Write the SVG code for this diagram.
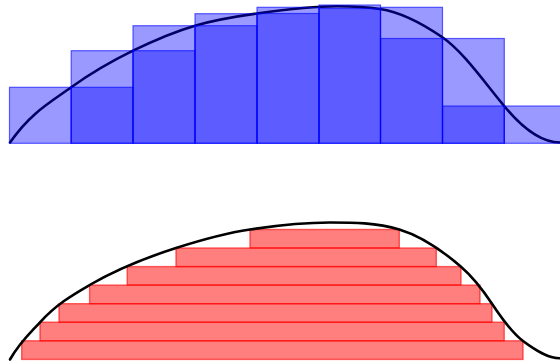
<svg xmlns="http://www.w3.org/2000/svg" width="560" height="364" viewBox="0 0 560 364">
<style>
.bar{fill:#0000ff;fill-opacity:0.4;stroke:#0000ff;stroke-opacity:0.6;stroke-width:1.2}
.strip{fill:#ff0000;fill-opacity:0.5;stroke:#ff0000;stroke-opacity:0.6;stroke-width:1.4}
.curve{fill:none;stroke:#000;stroke-width:2.6;stroke-linecap:round}
</style>
<rect width="560" height="364" fill="#fff"/>
<g id="curves">
<path id="top-curve" class="curve" d="M10,142.5 C30.4,112.9 50.8,102 71.2,87.3 C91.8,72.5 112.4,60.8 133,50.7 C153.7,40.6 174.3,31.7 195,25.7 C215.7,19.7 236.3,16.4 257,13.5 C283.7,9.8 310.3,6.2 337,6.2 C351.3,6.2 365.7,6.85 380,9 C400.7,12.1 421.3,22.9 442,37 C463,51.3 484,81.8 505,107 C523.3,129 541.7,142.5 560,142.5"/>
</g>
<g id="upper-bars">
<rect class="bar" x="9.5" y="87.3" width="61.7" height="56"/>
<rect class="bar" x="71.2" y="50.7" width="61.8" height="92.6"/>
<rect class="bar" x="133" y="25.7" width="62" height="117.6"/>
<rect class="bar" x="195" y="13.7" width="62" height="129.6"/>
<rect class="bar" x="257" y="7.3" width="62" height="136"/>
<rect class="bar" x="319" y="5" width="61.5" height="138.3"/>
<rect class="bar" x="380.5" y="7.3" width="62" height="136"/>
<rect class="bar" x="442.5" y="38.5" width="61.8" height="104.8"/>
<rect class="bar" x="504.3" y="106" width="61.7" height="37.3"/>
</g>
<g id="lower-bars">
<rect class="bar" x="9.5" y="143.3" width="61.7" height="0"/>
<rect class="bar" x="71.2" y="87.3" width="61.8" height="56"/>
<rect class="bar" x="133" y="50.7" width="62" height="92.6"/>
<rect class="bar" x="195" y="25.7" width="62" height="117.6"/>
<rect class="bar" x="257" y="13.5" width="62" height="129.8"/>
<rect class="bar" x="319" y="8.5" width="61.5" height="134.8"/>
<rect class="bar" x="380.5" y="38.5" width="62" height="104.8"/>
<rect class="bar" x="442.5" y="106" width="61.8" height="37.3"/>
<rect class="bar" x="504.3" y="143.3" width="61.7" height="0"/>
</g>
<g id="strips">
<rect class="strip" x="250" y="229.5" width="149.3" height="18.5"/>
<rect class="strip" x="176" y="248" width="260.3" height="18.6"/>
<rect class="strip" x="127.2" y="266.6" width="333.8" height="18.5"/>
<rect class="strip" x="89.6" y="285.1" width="390.4" height="18.6"/>
<rect class="strip" x="59" y="303.7" width="433" height="18.5"/>
<rect class="strip" x="40" y="322.2" width="464.2" height="18.6"/>
<rect class="strip" x="21.7" y="340.8" width="501.3" height="18.6"/>
</g>
<g id="curves-bottom">
<path id="bottom-curve" class="curve" d="M10,359.5 C20,342 30,333.3 40,322.3 C56.5,304.1 73.1,294.6 89.6,285 C118.4,268.3 147.2,257.2 176,248 C200.7,240.1 225.3,233.2 250,229.5 C276.7,225.5 303.3,222.5 330,222.5 C353.1,222.5 376.2,222.6 399.3,229.5 C419.9,235.7 440.4,249 461,266.7 C471.3,275.6 481.7,288.2 492,303.7 C502.3,319.2 512.7,333.3 523,341 C535.3,350.2 547.7,358.3 560,358.3"/>
</g>
</svg>
